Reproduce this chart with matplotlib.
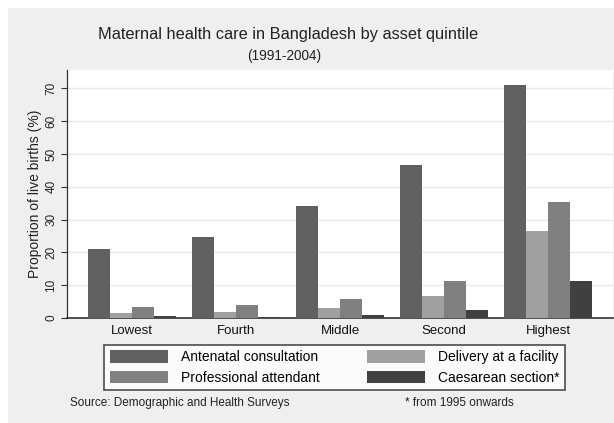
import matplotlib
matplotlib.use("Agg")
import matplotlib.pyplot as plt
from matplotlib.patches import Rectangle, Patch
import numpy as np

categories = ["Lowest", "Fourth", "Middle", "Second", "Highest"]
series_names = ["Antenatal consultation", "Delivery at a facility",
                "Professional attendant", "Caesarean section*"]
antenatal = [20.9, 24.7, 34.0, 46.5, 70.9]
delivery = [1.4, 1.8, 2.9, 6.8, 26.5]
professional = [3.3, 4.1, 5.7, 11.4, 35.5]
caesarean = [0.5, 0.4, 0.8, 2.3, 11.2]
yticks = [0, 10, 20, 30, 40, 50, 60, 70]

colors = ["#606060", "#a0a0a0", "#808080", "#404040"]
plt.rcParams['font.family'] = ['Liberation Sans', 'DejaVu Sans']

W, H = 614, 423
fig = plt.figure(figsize=(W / 100, H / 100), dpi=100, facecolor="white")
fig.patches.append(Rectangle((8 / W, 0), 1 - 8 / W, 1 - 8 / H, transform=fig.transFigure,
                             facecolor="#efefef", edgecolor="none", zorder=-10))

ax = fig.add_axes([67 / W, 1 - 318 / H, (613 - 67) / W, (318 - 70) / H])
ax.set_facecolor("white")

x = np.arange(len(categories))
bw = 0.846 / 4
data = [antenatal, delivery, professional, caesarean]
for i, (vals, c, name) in enumerate(zip(data, colors, series_names)):
    ax.bar(x + (i - 1.5) * bw, vals, width=bw, color=c, edgecolor="none", label=name, zorder=3)

ax.set_xlim(-0.625, 4.625)
ax.set_ylim(0, 75.6)
ax.set_yticks(yticks)
ax.set_yticklabels([str(t) for t in yticks], rotation=90, va="center", fontsize=8.5, color="#222")
ax.set_xticks(x)
ax.set_xticklabels(categories, fontsize=9.5, color="#111")
ax.tick_params(axis="x", length=0, pad=5)
ax.tick_params(axis="y", length=4, width=0.8, color="#333", pad=3)
ax.yaxis.grid(True, color="#e8e8e8", linewidth=1, zorder=0)
ax.set_axisbelow(True)
for s in ["top", "right"]:
    ax.spines[s].set_visible(False)
ax.spines["left"].set_color("#333")
ax.spines["left"].set_linewidth(0.9)
ax.spines["bottom"].set_color("#333")
ax.spines["bottom"].set_linewidth(1.2)
ax.set_ylabel("Proportion of live births (%)", fontsize=10, color="#222", labelpad=2)

fig.text(288 / W, 1 - 34 / H, "Maternal health care in Bangladesh by asset quintile",
         ha="center", va="center", fontsize=11.8, color="#222")
fig.text(284 / W, 1 - 56 / H, "(1991-2004)", ha="center", va="center", fontsize=9.8, color="#222")

handles = [Patch(facecolor=c, edgecolor="none") for c in colors]
order = [0, 2, 1, 3]
leg = fig.legend([handles[i] for i in order], [series_names[i] for i in order],
                 loc="center", bbox_to_anchor=(334.5 / W, 1 - 367.5 / H), ncol=2,
                 fontsize=10, frameon=True, fancybox=False, handlelength=4.2,
                 handleheight=1.0, handletextpad=0.9, columnspacing=3.4,
                 borderpad=0.4, labelspacing=0.45, borderaxespad=0)
leg.get_frame().set_edgecolor("#222")
leg.get_frame().set_linewidth(1.2)

fig.text(70 / W, 1 - 403 / H, "Source: Demographic and Health Surveys", ha="left", va="center",
         fontsize=8.5, color="#222")
fig.text(405 / W, 1 - 403 / H, "* from 1995 onwards", ha="left", va="center",
         fontsize=8.5, color="#222")

fig.savefig("out.png", dpi=100, facecolor=fig.get_facecolor())
